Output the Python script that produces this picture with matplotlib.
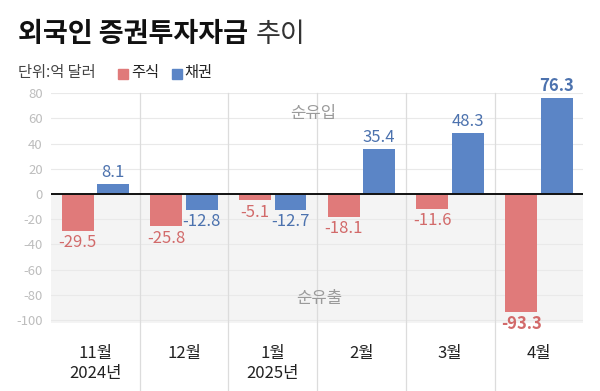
import numpy as np
import matplotlib.pyplot as plt
from matplotlib.patches import Rectangle

plt.rcParams['font.family'] = ['Noto Sans CJK KR', 'DejaVu Sans']

months = ["11월", "12월", "1월", "2월", "3월", "4월"]
years = ["2024년", "", "2025년", "", "", ""]
stocks = [-29.5, -25.8, -5.1, -18.1, -11.6, -93.3]
bonds = [8.1, -12.8, -12.7, 35.4, 48.3, 76.3]
yticks = [80, 60, 40, 20, 0, -20, -40, -60, -80, -100]

RED = "#e07a7a"
BLUE = "#5b85c6"
RED_TXT = "#d26a6a"
BLUE_TXT = "#4c72ae"
TICK = "#bdbdbd"
SEP = "#dcdcdc"

fig = plt.figure(figsize=(6, 3.91), dpi=100, facecolor="white")
ax = fig.add_axes([0.085, 0.175, 0.887, 0.587])
x = np.arange(len(months))
w = 0.36
off = 0.2

ax.set_xlim(-0.5, 5.5)
ax.set_ylim(-102, 80)

# shaded outflow area
ax.add_patch(Rectangle((-0.5, -102), 6, 102, color="#f4f4f4", zorder=0, lw=0))
for t in yticks:
    ax.axhline(t, color="#e9e9e9", lw=0.8, zorder=0.5)

ax.bar(x - off, stocks, w, color=RED, zorder=2)
ax.bar(x + off, bonds, w, color=BLUE, zorder=2)
ax.axhline(0, color="#111111", lw=1.4, zorder=3)

# month separators, running down through the tick labels
for s in np.arange(0.5, 5.5, 1):
    ax.plot([s, s], [80, -168], color=SEP, lw=0.9, zorder=1, clip_on=False)

for xi, v in zip(x, stocks):
    bold = v == min(stocks)
    ax.text(xi - off, v - 2.5, f"{v}", ha="center", va="top", color=RED_TXT,
            fontsize=12, fontweight="bold" if bold else "normal")
for xi, v in zip(x, bonds):
    if v >= 0:
        ax.text(xi + off, v + 2.5, f"{v}", ha="center", va="bottom", color=BLUE_TXT,
                fontsize=12, fontweight="bold" if v == max(bonds) else "normal")
    else:
        ax.text(xi + off, v - 2.5, f"{v}", ha="center", va="top", color=BLUE_TXT, fontsize=12)

ax.text(2.46, 64, "순유입", ha="center", va="center", color="#9a9a9a", fontsize=12)
ax.text(2.52, -83, "순유출", ha="center", va="center", color="#9a9a9a", fontsize=12)

ax.set_yticks(yticks)
ax.set_yticklabels([str(t) for t in yticks], color=TICK, fontsize=9.5)
ax.set_xticks(x)
ax.set_xticklabels([m + ("\n" + y if y else "") for m, y in zip(months, years)],
                   fontsize=12, color="#222222", linespacing=1.25, va="top")
ax.tick_params(axis="both", length=0)
ax.tick_params(axis="y", pad=6)
ax.tick_params(axis="x", pad=16)
ax.spines[:].set_visible(False)

# title and legend
t1 = fig.text(0.03, 0.912, "외국인 증권투자자금", fontsize=19.5, fontweight="bold", color="#111111", va="center")
fig.canvas.draw()
bb = t1.get_window_extent().transformed(fig.transFigure.inverted())
fig.text(bb.x1 + 0.012, 0.912, "추이", fontsize=19.5, color="#333333", va="center")
fig.text(0.03, 0.815, "단위:억 달러", fontsize=11, color="#444444", va="center")
fig.patches.append(Rectangle((0.197, 0.797), 0.017, 0.027, color=RED, transform=fig.transFigure, figure=fig))
fig.text(0.218, 0.815, "주식", fontsize=11, color="#222222", va="center")
fig.patches.append(Rectangle((0.287, 0.797), 0.017, 0.027, color=BLUE, transform=fig.transFigure, figure=fig))
fig.text(0.308, 0.815, "채권", fontsize=11, color="#222222", va="center")

fig.savefig("out.png", dpi=100, facecolor="white")
